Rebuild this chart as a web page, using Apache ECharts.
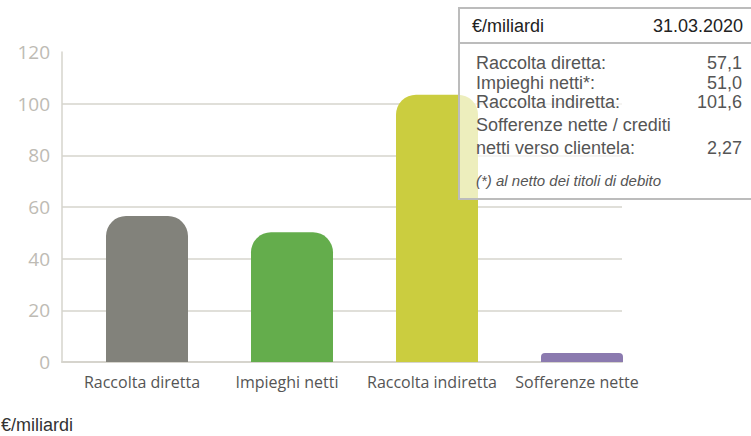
<!DOCTYPE html>
<html><head><meta charset="utf-8">
<script src="https://cdn.jsdelivr.net/npm/echarts@6/dist/echarts.min.js"></script>
<style>html,body{margin:0;padding:0;background:#fff}#c{width:751px;height:436px}</style>
</head><body><div id="c"></div>
<script>
var categories = ['Raccolta diretta', 'Impieghi netti', 'Raccolta indiretta', 'Sofferenze nette'];
var values = [56.5, 50.2, 103.5, 3.5];
var barColors = ['#82827b', '#64ad4c', '#cbcd3f', '#8b7aaf'];
var yTicks = [0, 20, 40, 60, 80, 100, 120];
var tableTitle = '€/miliardi';
var tableDate = '31.03.2020';
var tableLabels = ['Raccolta diretta:', 'Impieghi netti*:', 'Raccolta indiretta:', 'Sofferenze nette / crediti', 'netti verso clientela:'];
var tableValues = ['57,1', '51,0', '101,6', '', '2,27'];
var tableNote = '(*) al netto dei titoli di debito';
var unitLabel = '€/miliardi';

var chart = echarts.init(document.getElementById('c'), null, {renderer: 'svg'});
var gridCol = '#d6d4cd';
var rowY = [63, 83, 102, 125, 148];
var graphic = [
  {type: 'rect', z: 100, shape: {x: 459, y: 8, width: 310, height: 191},
   style: {fill: 'rgba(255,255,255,0.66)', stroke: '#bcbcbc', lineWidth: 2}},
  {type: 'line', z: 101, shape: {x1: 459, y1: 43, x2: 751, y2: 43}, style: {stroke: '#bcbcbc', lineWidth: 2}},
  {type: 'text', z: 102, x: 472, y: 26, style: {text: tableTitle, fill: '#222', font: '18px Arial, "Liberation Sans"', textVerticalAlign: 'middle'}},
  {type: 'text', z: 102, x: 743, y: 26, style: {text: tableDate, fill: '#222', font: '18px Arial, "Liberation Sans"', textAlign: 'right', textVerticalAlign: 'middle'}},
  {type: 'text', z: 102, x: 476, y: 180, style: {text: tableNote, fill: '#555', font: 'italic 15px Arial, "Liberation Sans"', textVerticalAlign: 'middle'}},
  {type: 'text', z: 102, x: 1, y: 425, style: {text: unitLabel, fill: '#333', font: '18px Arial, "Liberation Sans"', textVerticalAlign: 'middle'}}
];
tableLabels.forEach(function (t, i) {
  graphic.push({type: 'text', z: 102, x: 476, y: rowY[i], style: {text: t, fill: '#555', font: '18px Arial, "Liberation Sans"', textVerticalAlign: 'middle'}});
  if (tableValues[i]) graphic.push({type: 'text', z: 102, x: 742, y: rowY[i], style: {text: tableValues[i], fill: '#555', font: '18px Arial, "Liberation Sans"', textAlign: 'right', textVerticalAlign: 'middle'}});
});
var splitColors = yTicks.map(function (v, i) { return i === yTicks.length - 1 ? 'rgba(0,0,0,0)' : gridCol; });

chart.setOption({
  animation: false,
  backgroundColor: '#fff',
  grid: [
    {left: 62, right: 129, top: 52, bottom: 74},
    {left: 74.5, right: 96.5, top: 52, bottom: 74}
  ],
  xAxis: [
    {gridIndex: 0, type: 'category', data: categories, axisLine: {show: true, lineStyle: {color: gridCol, width: 2}},
     axisTick: {show: false}, axisLabel: {show: false}},
    {gridIndex: 1, type: 'category', data: categories, axisLine: {show: false}, axisTick: {show: false},
     axisLabel: {interval: 0, color: '#555', fontFamily: '"Open Sans"', fontSize: 16, margin: 12, padding: [0, 10, 0, 0]}}
  ],
  yAxis: [
    {gridIndex: 0, type: 'value', min: yTicks[0], max: yTicks[yTicks.length - 1], interval: 20,
     axisLine: {show: true, lineStyle: {color: gridCol, width: 1.5}}, axisTick: {show: false},
     splitLine: {show: true, lineStyle: {color: splitColors, width: 1.5}},
     axisLabel: {color: '#bebbb4', fontFamily: '"Open Sans"', fontSize: 19, margin: 12}},
    {gridIndex: 1, type: 'value', min: yTicks[0], max: yTicks[yTicks.length - 1], interval: 20, show: false,
     splitLine: {show: false}}
  ],
  graphic: graphic,
  series: [{
    type: 'bar', xAxisIndex: 1, yAxisIndex: 1, barWidth: 82,
    data: values.map(function (v, i) {
      return {value: v, itemStyle: {color: barColors[i], borderRadius: i === 3 ? [4, 4, 0, 0] : [20, 20, 0, 0]}};
    })
  }]
});
</script></body></html>
